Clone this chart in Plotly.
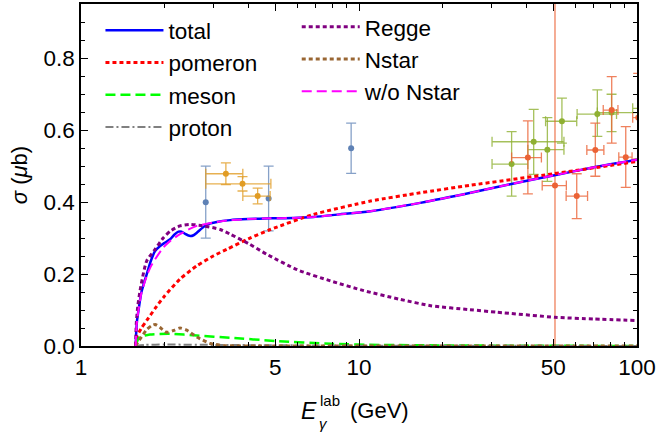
import plotly.graph_objects as go

# ---------------- curves (E in GeV, sigma in microbarn) ----------------
E_total = [1.573, 1.58, 1.59, 1.609, 1.65, 1.724, 1.78, 1.847, 1.926, 2.0, 2.093, 2.17, 2.242, 2.30,
           2.369, 2.47, 2.54, 2.61, 2.72, 2.84, 3.08, 3.44, 4.0, 4.8, 5.8, 6.87, 8.5, 11, 16.6, 25.2,
           35, 50, 70, 100]
S_total = [0.0, 0.04, 0.07, 0.098, 0.15, 0.20, 0.235, 0.264, 0.278, 0.287, 0.297, 0.31, 0.318, 0.318,
           0.312, 0.306, 0.308, 0.315, 0.327, 0.338, 0.345, 0.350, 0.353, 0.355, 0.356, 0.359, 0.366,
           0.375, 0.398, 0.426, 0.450, 0.474, 0.497, 0.518]

E_wo = [1.573, 1.58, 1.59, 1.609, 1.65, 1.724, 1.78, 1.847, 1.979, 2.1, 2.27, 2.45, 2.61, 2.84, 3.08,
        3.44, 4.0, 4.8, 5.8, 6.87, 8.5, 11, 16.6, 25.2, 35, 50, 70, 100]
S_wo = [0.0, 0.04, 0.07, 0.098, 0.148, 0.195, 0.22, 0.241, 0.274, 0.293, 0.311, 0.325, 0.334, 0.340,
        0.345, 0.350, 0.353, 0.355, 0.356, 0.359, 0.366, 0.375, 0.398, 0.426, 0.450, 0.474, 0.497, 0.518]

E_regge = [1.573, 1.58, 1.6, 1.631, 1.68, 1.724, 1.847, 1.979, 2.1, 2.27, 2.47, 2.76, 3.17, 3.44, 4.0,
           4.66, 6.0, 7.9, 10.4, 14, 18.1, 25, 31.4, 50.6, 70, 100]
S_regge = [0.0, 0.06, 0.11, 0.154, 0.205, 0.237, 0.269, 0.301, 0.32, 0.334, 0.338, 0.334, 0.324, 0.311,
           0.285, 0.255, 0.212, 0.181, 0.154, 0.13, 0.112, 0.101, 0.094, 0.080, 0.075, 0.071]

E_pom = [1.573, 1.587, 1.65, 1.724, 1.85, 1.979, 2.27, 2.61, 3.0, 3.35, 4.0, 4.8, 6.87, 11, 16.6, 25.2,
         50, 100]
S_pom = [0.0, 0.025, 0.05, 0.071, 0.105, 0.135, 0.186, 0.223, 0.251, 0.269, 0.298, 0.324, 0.366, 0.403,
         0.426, 0.447, 0.479, 0.513]

E_nstar = [1.573, 1.6, 1.65, 1.72, 1.79, 1.847, 1.92, 2.035, 2.15, 2.27, 2.4, 2.61, 2.915, 3.3, 5, 100]
S_nstar = [0.0, 0.01, 0.025, 0.045, 0.056, 0.060, 0.052, 0.038, 0.043, 0.050, 0.044, 0.025, 0.007,
           0.001, 0.0, 0.0]

E_meson = [1.573, 1.6, 1.631, 1.77, 2.09, 2.61, 3.44, 5, 7.9, 12, 20, 50, 100]
S_meson = [0.0, 0.017, 0.025, 0.032, 0.034, 0.029, 0.023, 0.014, 0.006, 0.003, 0.0015, 0.0005, 0.0002]

E_proton = [1.573, 1.7, 2.0, 3.0, 5.0, 10, 100]
S_proton = [0.0, 0.003, 0.004, 0.003, 0.002, 0.001, 0.0002]

# ---------------- data points ----------------
# set 1 (blue)
d1_E = [2.81, 4.73, 9.37]
d1_S = [0.40, 0.41, 0.55]
d1_err = [0.10, 0.09, 0.07]

# set 2 (orange)
d2_E = [3.32, 3.81, 4.32]
d2_S = [0.479, 0.451, 0.417]
d2_err = [0.03, 0.02, 0.022]
d2_Elo = [2.81, 2.81, 3.82]
d2_Ehi = [3.82, 4.82, 4.79]

# set 3 (green)
d3_E = [35.4, 42.5, 47.6, 53.7, 72.0, 81.0, 110.0]
d3_S = [0.506, 0.568, 0.546, 0.625, 0.645, 0.649, 0.661]
d3_Slo = [0.417, 0.477, 0.458, 0.564, 0.583, 0.596, 0.60]
d3_Shi = [0.596, 0.658, 0.635, 0.689, 0.712, 0.700, 0.72]
d3_Elo = [30.1, 30.1, 40.5, 46.9, 60.9, 72.0, 96.5]
d3_Ehi = [40.5, 54.6, 54.6, 60.7, 84.4, 102.0, 125.0]

# set 4 (red)
d4_E = [40.5, 50.7, 60.7, 70.8, 81.1, 91.1, 101.0]
d4_S = [0.524, 0.446, 0.417, 0.545, 0.656, 0.525, 0.635]
d4_Slo = [0.423, -1.0, 0.354, 0.472, 0.564, 0.441, 0.52]
d4_Shi = [0.626, 2.0, 0.479, 0.620, 0.749, 0.610, 0.758]
d4_Elo = [35.4, 45.6, 55.6, 66.0, 75.6, 86.0, 96.5]
d4_Ehi = [45.3, 55.7, 66.4, 76.0, 85.4, 96.0, 108.0]

x_tickvals = [1, 5, 10, 50, 100]
x_ticktext = ["1", "5", "10", "50", "100"]
x_minor = [2, 3, 4, 6, 7, 8, 9, 20, 30, 40, 60, 70, 80, 90]
y_tickvals = [0.0, 0.2, 0.4, 0.6, 0.8]

FONT = "Liberation Sans, Arial, sans-serif"

fig = go.Figure()


def add_data(E, S, color, bar_color, Slo=None, Shi=None, err=None, Elo=None, Ehi=None):
    if err is not None:
        ey = dict(type="data", array=err, arrayminus=err, color=bar_color, thickness=1.3, width=5)
    else:
        ey = dict(type="data", array=[h - s for h, s in zip(Shi, S)],
                  arrayminus=[s - l for s, l in zip(S, Slo)], color=bar_color, thickness=1.3, width=5)
    ex = None
    if Elo is not None:
        ex = dict(type="data", array=[h - e for h, e in zip(Ehi, E)],
                  arrayminus=[e - l for e, l in zip(E, Elo)], color=bar_color, thickness=1.3, width=5)
    fig.add_trace(go.Scatter(x=E, y=S, mode="markers", showlegend=False,
                             marker=dict(color=color, size=6),
                             error_y=ey, error_x=ex))


add_data(d1_E, d1_S, "#5e81b5", "rgba(94,129,181,0.75)", err=d1_err)
add_data(d2_E, d2_S, "#e19c24", "rgba(225,156,36,0.8)", err=d2_err, Elo=d2_Elo, Ehi=d2_Ehi)
add_data(d3_E, d3_S, "#8fb032", "rgba(143,176,50,0.8)", Slo=d3_Slo, Shi=d3_Shi, Elo=d3_Elo, Ehi=d3_Ehi)
add_data(d4_E, d4_S, "#eb6235", "rgba(235,98,53,0.8)", Slo=d4_Slo, Shi=d4_Shi, Elo=d4_Elo, Ehi=d4_Ehi)

curves = [
    ("total", E_total, S_total, "#0000ff", "solid", 2.5, "legend"),
    ("pomeron", E_pom, S_pom, "#ff0000", "4px,3px", 3, "legend"),
    ("meson", E_meson, S_meson, "#00ff00", "10px,5px", 2.5, "legend"),
    ("proton", E_proton, S_proton, "#808080", "8px,3px,2px,3px", 2, "legend"),
    ("Regge", E_regge, S_regge, "#800080", "4px,3px", 3, "legend2"),
    ("Nstar", E_nstar, S_nstar, "#996633", "4px,3px", 3, "legend2"),
    ("w/o Nstar", E_wo, S_wo, "#ff00ff", "10px,5px", 2, "legend2"),
]
for name, E, S, col, dash, w, lg in curves:
    fig.add_trace(go.Scatter(x=E, y=S, mode="lines", name=name, legend=lg,
                             line=dict(color=col, dash=dash, width=w, shape="spline", smoothing=0.6)))

LEG_FONT = dict(size=22.5, family=FONT)
fig.update_layout(
    width=659, height=436,
    margin=dict(l=81, r=22, t=2, b=90),
    paper_bgcolor="white", plot_bgcolor="white",
    font=dict(family=FONT, size=22, color="black"),
    legend=dict(orientation="v", x=0.035, y=0.985, xanchor="left", yanchor="top",
                itemwidth=58, font=LEG_FONT, bgcolor="rgba(0,0,0,0)", traceorder="normal"),
    legend2=dict(orientation="v", x=0.388, y=0.995, xanchor="left", yanchor="top",
                 itemwidth=58, font=LEG_FONT, bgcolor="rgba(0,0,0,0)", traceorder="normal"),
    xaxis=dict(type="log", range=[0, 2], tickmode="array", tickvals=x_tickvals, ticktext=x_ticktext,
               ticks="inside", ticklen=7, tickwidth=1, tickcolor="black",
               minor=dict(tickmode="array", tickvals=x_minor, ticks="inside", ticklen=4, tickcolor="black"),
               showline=True, linecolor="black", linewidth=1.5, mirror="ticks", showgrid=False,
               zeroline=False, tickfont=dict(size=22.5)),
    yaxis=dict(range=[0, 0.951], tickmode="array", tickvals=y_tickvals, tickformat=".1f",
               ticks="inside", ticklen=7, tickwidth=1, tickcolor="black",
               minor=dict(dtick=0.05, ticks="inside", ticklen=4, tickcolor="black"),
               showline=True, linecolor="black", linewidth=1.5, mirror="ticks", showgrid=False,
               zeroline=False, tickfont=dict(size=22.5),
               title=dict(text="<i>σ</i> (<i>μ</i>b)", font=dict(size=22), standoff=10)),
)

# x-axis title with stacked sub/superscript
fig.add_annotation(text="<i>E</i>", xref="paper", yref="paper", x=(309 - 81) / 556, y=(346 - 411) / 344,
                   showarrow=False, font=dict(size=23), xanchor="center", yanchor="middle")
fig.add_annotation(text="lab", xref="paper", yref="paper", x=(318 - 81) / 556, y=(346 - 401) / 344,
                   showarrow=False, font=dict(size=15), xanchor="left", yanchor="middle")
fig.add_annotation(text="<i>γ</i>", xref="paper", yref="paper", x=(317 - 81) / 556, y=(346 - 424) / 344,
                   showarrow=False, font=dict(size=15), xanchor="left", yanchor="middle")
fig.add_annotation(text="(GeV)", xref="paper", yref="paper", x=(348 - 81) / 556, y=(346 - 411) / 344,
                   showarrow=False, font=dict(size=22), xanchor="left", yanchor="middle")

fig.write_html("out.html")
